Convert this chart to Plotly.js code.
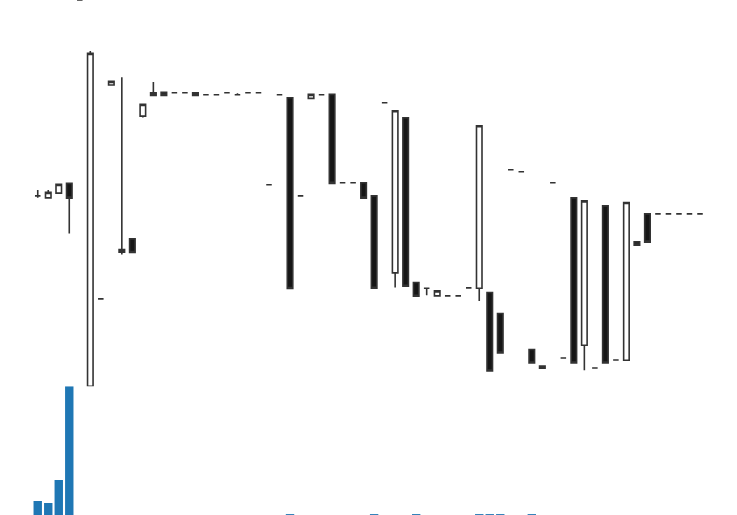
<!DOCTYPE html>
<html>
<head>
<meta charset="utf-8">
<script src="https://cdn.plot.ly/plotly-3.0.1.min.js"></script>
<style>
  html, body { margin: 0; padding: 0; background: #ffffff; }
  #chart { width: 737px; height: 515px; }
</style>
</head>
<body>
<div id="chart"></div>
<script>
// Session index (x categories)
const sessions = Array.from({length: 64}, (_, i) => i);

const openPrices = [
  40.43, 40.23, 40.70, 41.67, 60.00, 21.40, 30.13, 51.50, 35.07, 36.13,
  48.40, 50.73, 50.77, 50.73, 50.73, 50.73, 50.53, 50.53, 50.73, 50.53,
  50.73, 50.73, 41.53, 50.53, 50.23, 40.43, 50.17, 50.53, 50.57, 41.73,
  41.73, 41.73, 40.43, 49.73, 32.73, 48.23, 31.77, 31.20, 30.43, 30.43,
  30.43, 31.23, 31.20, 30.77, 28.67, 43.03, 42.83, 25.07, 23.43, 41.73,
  24.23, 40.23, 25.50, 23.23, 39.43, 24.03, 24.00, 35.83, 38.63, 38.63,
  38.63, 38.63, 38.63, 38.63
];
const highPrices = [
  41.00, 41.00, 41.57, 41.70, 60.00, 54.90, 30.13, 51.87, 52.27, 36.13,
  49.57, 51.80, 50.77, 50.73, 50.73, 50.73, 50.53, 50.53, 50.73, 50.67,
  50.73, 50.73, 41.53, 50.53, 50.23, 40.43, 50.57, 50.53, 50.57, 41.73,
  41.73, 41.73, 40.43, 49.73, 48.93, 48.23, 31.77, 31.20, 30.93, 30.43,
  30.43, 31.23, 47.43, 30.77, 28.67, 43.03, 42.83, 25.07, 23.43, 41.73,
  24.23, 40.23, 39.93, 23.23, 39.43, 24.03, 39.77, 35.83, 38.63, 38.63,
  38.63, 38.63, 38.63, 38.63
];
const lowPrices = [
  40.25, 40.23, 40.70, 36.67, 60.00, 21.40, 30.13, 51.50, 34.57, 34.77,
  48.27, 50.47, 50.47, 50.73, 50.73, 50.47, 50.53, 50.53, 50.73, 50.53,
  50.73, 50.73, 41.53, 50.53, 31.17, 40.43, 50.17, 50.53, 41.67, 41.73,
  41.73, 40.20, 31.20, 49.73, 31.27, 31.40, 30.40, 30.50, 30.43, 30.43,
  30.43, 31.23, 29.93, 22.93, 24.73, 43.03, 42.83, 23.73, 23.20, 41.73,
  24.23, 23.73, 23.00, 23.23, 23.73, 24.03, 24.00, 35.50, 35.80, 38.63,
  38.63, 38.63, 38.63, 38.63
];
const closePrices = [
  40.43, 40.77, 41.57, 40.20, 60.00, 54.67, 30.13, 51.87, 34.80, 34.77,
  49.57, 50.47, 50.47, 50.73, 50.73, 50.47, 50.53, 50.53, 50.73, 50.53,
  50.73, 50.73, 41.53, 50.53, 31.17, 40.43, 50.57, 50.53, 41.67, 41.73,
  41.73, 40.20, 31.20, 49.73, 48.93, 31.40, 30.40, 31.20, 30.93, 30.43,
  30.43, 31.23, 47.43, 22.93, 24.73, 43.03, 42.83, 23.73, 23.20, 41.73,
  24.23, 23.73, 39.93, 23.23, 23.73, 24.03, 39.77, 35.50, 35.80, 38.63,
  38.63, 38.63, 38.63, 38.63
];
const volumes = [
  1400, 1200, 3500, 12900, 0, 0, 0, 0, 0, 0,
  0, 0, 0, 0, 0, 0, 0, 0, 0, 0,
  0, 0, 0, 0, 90, 0, 0, 0, 0, 0,
  0, 0, 90, 0, 0, 0, 90, 0, 0, 0,
  0, 0, 90, 90, 90, 0, 0, 90, 0, 0,
  0, 0, 0, 0, 0, 0, 0, 0, 0, 0,
  0, 0, 0, 0
];

const priceMin = Math.min(...lowPrices);
const priceMax = Math.max(...highPrices);
const volMax = Math.max(...volumes);

const candle = {
  type: 'candlestick',
  x: sessions,
  open: openPrices,
  high: highPrices,
  low: lowPrices,
  close: closePrices,
  xaxis: 'x',
  yaxis: 'y',
  increasing: { line: { color: '#333333', width: 1.6 }, fillcolor: '#ffffff' },
  decreasing: { line: { color: '#333333', width: 1.6 }, fillcolor: '#161616' },
  whiskerwidth: 0,
  showlegend: false,
  hoverinfo: 'skip'
};

const volume = {
  type: 'bar',
  x: sessions,
  y: volumes,
  xaxis: 'x',
  yaxis: 'y2',
  marker: { color: '#1f77b4', line: { width: 0 } },
  showlegend: false,
  hoverinfo: 'skip'
};

const hidden = { visible: false, showgrid: false, zeroline: false, showticklabels: false, fixedrange: true };

const layout = {
  width: 737,
  height: 515,
  margin: { l: 0, r: 0, t: 0, b: 0, pad: 0 },
  paper_bgcolor: '#ffffff',
  plot_bgcolor: '#ffffff',
  showlegend: false,
  bargap: 0.2,
  boxgap: 0.25,
  xaxis: Object.assign({}, hidden, { range: [-3.59, 66.52], rangeslider: { visible: false } }),
  yaxis: Object.assign({}, hidden, { domain: [0.25, 1], range: [priceMin, priceMax] }),
  yaxis2: Object.assign({}, hidden, { domain: [0, 0.25], range: [0, volMax] })
};

Plotly.newPlot('chart', [volume, candle], layout, { staticPlot: true, displayModeBar: false });
</script>
</body>
</html>
